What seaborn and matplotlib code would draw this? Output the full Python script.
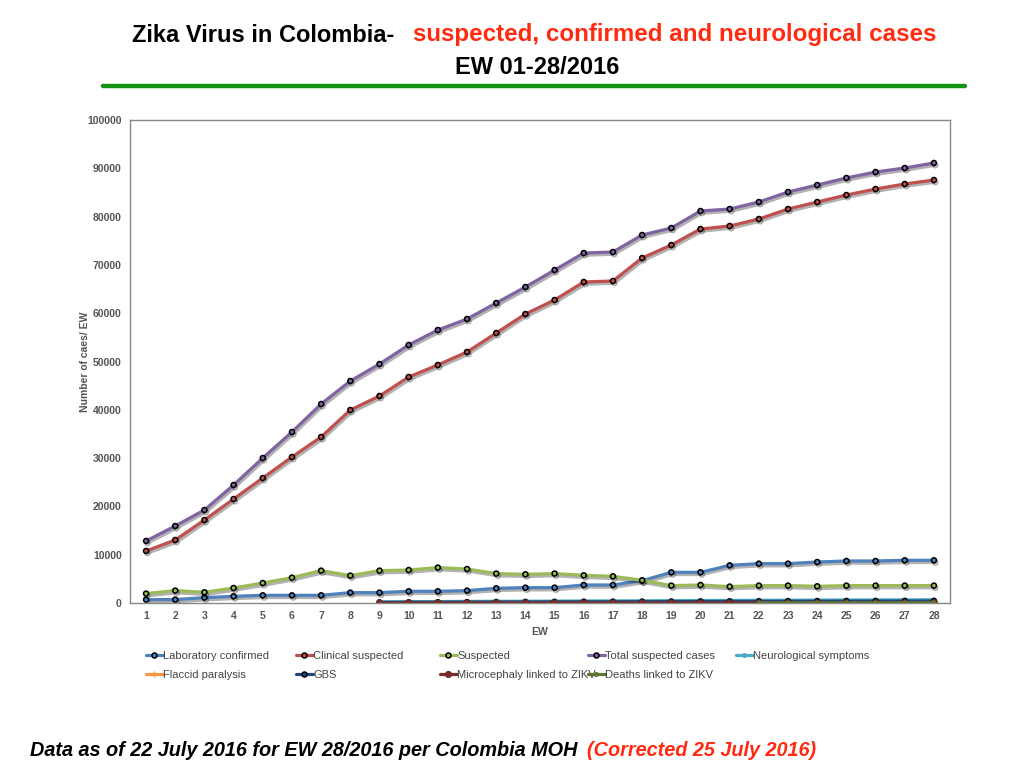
"""Zika virus in Colombia - suspected, confirmed and neurological cases, EW 01-28/2016"""

import matplotlib
matplotlib.use("Agg")
import matplotlib.pyplot as plt
import matplotlib.patheffects as pe
from matplotlib.lines import Line2D
import numpy as np
import pandas as pd
import seaborn as sns

sns.set_style("white")
plt.rcParams['font.family'] = ['Liberation Sans', 'DejaVu Sans']

weeks = list(range(1, 29))
lab_confirmed = [700, 700, 1110, 1390, 1590, 1590, 1590, 2150, 2150, 2420, 2420, 2560, 3040, 3180,
                 3180, 3730, 3730, 4630, 6350, 6350, 7800, 8150, 8150, 8490, 8700, 8700, 8840, 8840]
clinical_suspected = [10770, 13040, 17180, 21530, 25880, 30230, 34370, 39960, 42860, 46790, 49280,
                      51970, 55900, 59830, 62730, 66460, 66670, 71430, 74120, 77430, 78050, 79500,
                      81570, 83020, 84470, 85710, 86750, 87580]
suspected = [1950, 2570, 2220, 3110, 4140, 5250, 6700, 5670, 6700, 6830, 7330, 7040, 6090, 5940,
             6090, 5730, 5530, 4700, 3600, 3730, 3400, 3600, 3600, 3460, 3600, 3600, 3600, 3600]
total_suspected = [12840, 15940, 19250, 24430, 30020, 35400, 41200, 45960, 49480, 53420, 56520,
                   58800, 62110, 65420, 68940, 72460, 72670, 76190, 77640, 81160, 81570, 83020,
                   85090, 86540, 88000, 89230, 90060, 91100]
# neurological series start at EW 9 (deaths at EW 22)
nan = np.nan
neuro_symptoms = [nan] * 8 + [250, 280, 300, 330, 350, 370, 390, 420, 440, 460,
                              490, 520, 540, 560, 580, 600, 620, 640, 650, 670]
flaccid_paralysis = [nan] * 8 + [10, 12, 15, 18, 20, 22, 25, 28, 30, 32,
                                 35, 38, 40, 42, 45, 48, 50, 52, 55, 58]
gbs = [nan] * 8 + [120, 140, 160, 180, 200, 210, 230, 250, 260, 270,
                   290, 310, 330, 340, 350, 370, 380, 390, 400, 410]
microcephaly = [nan] * 8 + [2, 3, 4, 5, 5, 6, 7, 8, 8, 9,
                            10, 11, 12, 13, 14, 15, 16, 17, 18, 20]
deaths = [nan] * 21 + [30, 32, 35, 38, 40, 42, 45]

series_names = ["Laboratory confirmed", "Clinical suspected", "Suspected", "Total suspected cases",
                "Neurological symptoms", "Flaccid paralysis", "GBS",
                "Microcephaly linked to ZIKV", "Deaths linked to ZIKV"]
series_values = [lab_confirmed, clinical_suspected, suspected, total_suspected,
                 neuro_symptoms, flaccid_paralysis, gbs, microcephaly, deaths]
colors = ["#4f81bd", "#c0504d", "#9bbb59", "#8064a2", "#4bacc6",
          "#f79646", "#1f497d", "#772c2a", "#5f7530"]
# marker style per series: (marker, size, edge colour)
marker_styles = [("o", 3.6, "black"), ("o", 3.6, "black"), ("o", 3.6, "black"),
                 ("o", 3.6, "black"), ("o", 2.6, None), ("+", 4, None),
                 ("o", 3.6, "black"), ("o", 4.2, None), ("o", 2.6, None)]

df = pd.DataFrame({"EW": weeks})
for name, vals in zip(series_names, series_values):
    df[name] = vals

fig = plt.figure(figsize=(10.24, 7.68), dpi=100)
ax = fig.add_axes([130 / 1024, 1 - 603 / 768, 820 / 1024, 483 / 768])

shadow = [pe.SimpleLineShadow(offset=(1.0, -1.6), alpha=0.3, shadow_color="black"), pe.Normal()]
handles = []
for name, color, (mk, ms, mec) in zip(series_names, colors, marker_styles):
    edge = mec if mec else color
    mew = 1.1 if mec else 1.0
    sns.lineplot(data=df, x="EW", y=name, ax=ax, color=color, linewidth=2.3,
                 marker=mk, markersize=ms, markerfacecolor=color, markeredgecolor=edge,
                 markeredgewidth=mew, path_effects=shadow)
    handles.append(Line2D([], [], color=color, linewidth=2.3, marker=mk, markersize=ms,
                          markerfacecolor=color, markeredgecolor=edge, markeredgewidth=mew))

ax.set_xlim(0.45, 28.55)
ax.set_ylim(0, 100000)
ax.set_xticks(weeks)
ax.set_yticks(range(0, 100001, 10000))
ax.tick_params(axis="both", length=0, labelsize=7.5, labelcolor="#555555")
ax.tick_params(axis="x", pad=6)
ax.tick_params(axis="y", pad=6)
for lbl in ax.get_xticklabels() + ax.get_yticklabels():
    lbl.set_fontweight("bold")
ax.set_xlabel("EW", fontsize=7.5, color="#555555", fontweight="bold", labelpad=4)
ax.set_ylabel("Number of caes/ EW", fontsize=7.5, color="#555555", fontweight="bold", labelpad=-2)
for sp in ax.spines.values():
    sp.set_color("#888888")
    sp.set_linewidth(1.0)

# legend laid out in fixed-width columns, row by row
col_x = [146, 296, 440, 588, 736]
for c, x in enumerate(col_x):
    idx = [i for i in (c, c + 5) if i < len(series_names)]
    fig.legend([handles[i] for i in idx], [series_names[i] for i in idx], loc="upper left",
               bbox_to_anchor=(x / 1024, 1 - 651 / 768), frameon=False, fontsize=8,
               handlelength=1.5, handletextpad=0.05, labelspacing=0.78, borderaxespad=0,
               borderpad=0, labelcolor="#444444")

# title, two colours on one line
fig.text(132 / 1024, 1 - 35 / 768, "Zika Virus in Colombia-", fontsize=17,
         fontweight="bold", color="black", va="center", ha="left")
fig.text(413 / 1024, 1 - 35 / 768, "suspected, confirmed and neurological cases",
         fontsize=17.4, fontweight="bold", color="#ff2a10", va="center", ha="left")
fig.text(537 / 1024, 1 - 67 / 768, "EW 01-28/2016", fontsize=17, fontweight="bold",
         color="black", ha="center", va="center")
fig.add_artist(Line2D([103 / 1024, 965 / 1024], [1 - 86 / 768, 1 - 86 / 768],
                      color="#149414", linewidth=3.2, transform=fig.transFigure))

fig.text(30 / 1024, 1 - 750 / 768, "Data as of 22 July 2016 for EW 28/2016 per Colombia MOH",
         fontsize=14.3, fontweight="bold", fontstyle="italic", color="black",
         va="center", ha="left")
fig.text(587 / 1024, 1 - 750 / 768, "(Corrected 25 July 2016)", fontsize=14.3,
         fontweight="bold", fontstyle="italic", color="#ff2a10", va="center", ha="left")

fig.savefig("out.png", dpi=100)
